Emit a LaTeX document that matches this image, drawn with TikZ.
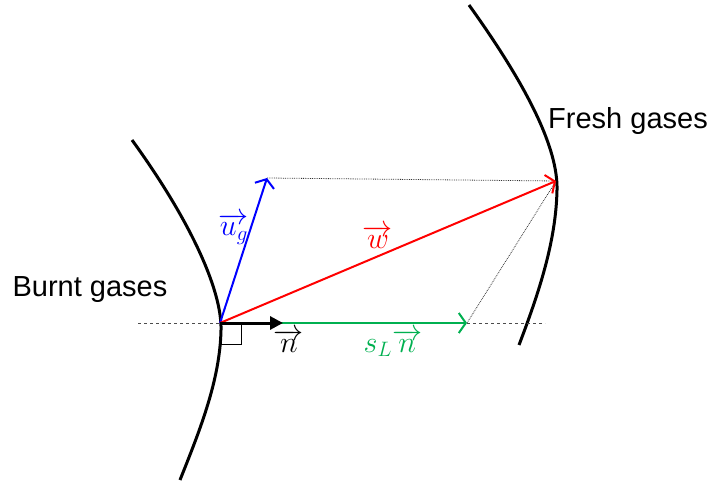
\documentclass[tikz,border=0pt]{standalone}
\usepackage{fontspec}
\setsansfont{Liberation Sans}
\usepackage{tikz}
\usetikzlibrary{arrows.meta, positioning}
\definecolor{ugblue}{HTML}{0000FF}
\definecolor{wred}{HTML}{FF0000}
\definecolor{slgreen}{HTML}{00B050}
\newcommand{\biglbl}[1]{\scalebox{1.45}{$#1$}}
\tikzset{
  front/.style={line width=3pt, black},
  vec/.style={-{Straight Barb[length=7pt, width=20pt, line width=2pt]}, line width=2pt},
  guide/.style={densely dotted, line width=0.8pt, black!80},
  axis/.style={dashed, line width=0.9pt, black!70},
  gas/.style={font=\sffamily\fontsize{29}{34}\selectfont},
  lbl/.style={font=\huge, inner sep=0pt},
}
\begin{document}
\begin{tikzpicture}[x=1pt, y=-1pt]
\useasboundingbox (0,0) rectangle (712,486);
% flame fronts
\draw[front] (132,140) .. controls (190,220) and (222,290) .. (221,330) .. controls (220,380) and (200,430) .. (180,480);
\draw[front] (469,5) .. controls (530,90) and (558,150) .. (557,190) .. controls (556,240) and (540,290) .. (519,345);
% points
\coordinate (o) at (220,323);
\coordinate (ug) at (267,178);
\coordinate (w) at (556,181);
\coordinate (sn) at (467,323);
\coordinate (n) at (283,323);
\coordinate (dl) at (138,323);
\coordinate (dr) at (545,323);
% construction lines
\draw[axis] (dl) -- (o);
\draw[axis] (sn) -- (dr);
\draw[guide] (ug) -- (w);
\draw[guide] (sn) -- (w);
\draw[line width=1pt] (241,323) -- (241,344) -- (221,344);
% vectors
\draw[vec, slgreen] (o) -- (sn);
\draw[vec, ugblue] (o) -- (ug);
\draw[vec, wred] (o) -- (w);
\draw[line width=3pt, -{Triangle[length=13pt, width=13pt]}] (o) -- (n);
% labels
\node[gas] (burnt) at (90,290) {Burnt gases};
\node[gas] (fresh) at (628,121) {Fresh gases};
\node[lbl, ugblue] (uglbl) at (234,229) {\biglbl{\overrightarrow{u_g}}};
\node[lbl, wred] (wlbl) at (378,237) {\biglbl{\overrightarrow{w}}};
\node[lbl] (nlbl) at (289,341) {\biglbl{\overrightarrow{n}}};
\node[lbl, slgreen] (snlbl) at (393,343) {\biglbl{s_L\overrightarrow{n}}};
\end{tikzpicture}
\end{document}
